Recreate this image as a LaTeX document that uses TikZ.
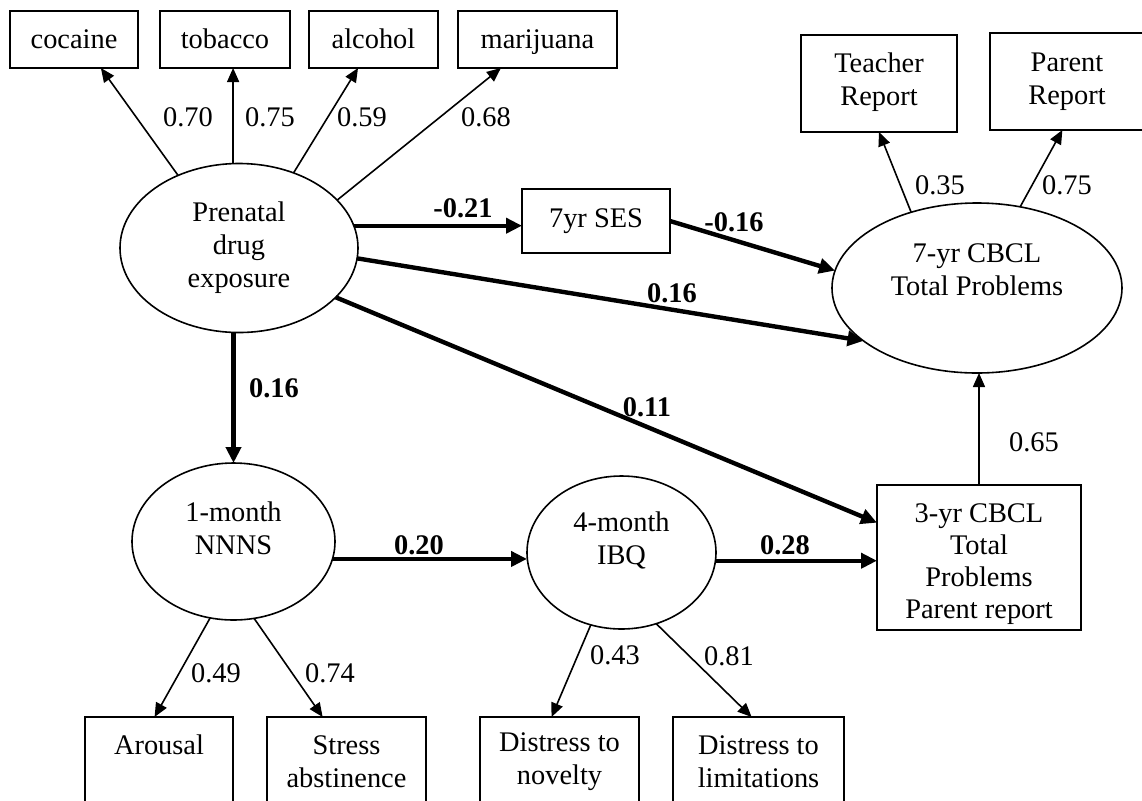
\documentclass[tikz,border=0pt]{standalone}
\usepackage{fontspec}
\setmainfont{Liberation Serif}
\usetikzlibrary{arrows.meta,shapes.geometric,calc}
\begin{document}
\begin{tikzpicture}[x=0.5pt,y=-0.5pt,
  every node/.style={font=\fontsize{14.2}{16.5}\selectfont, inner sep=0pt, outer sep=0pt},
  box/.style={draw, line width=0.8pt, rectangle, align=center},
  tbox/.style={box, minimum height=28.5pt, text height=11.5pt, text depth=3pt},
  lat/.style={draw, line width=0.8pt, ellipse},
  txt/.style={align=center},
  ld/.style={line width=0.8pt, -{Triangle[length=7pt,width=6pt]}},
  pth/.style={line width=2.2pt, -{Triangle[length=8pt,width=7.5pt]}},
  lbl/.style={},
  blbl/.style={font=\fontsize{14.2}{16.5}\selectfont\bfseries},
]
\useasboundingbox (0,0) rectangle (1142,800);
\clip (0,0) rectangle (1142,800);

% indicator boxes, top
\node[tbox, minimum width=64pt] (coc) at (74,39.5) {cocaine};
\node[tbox, minimum width=65pt] (tob) at (225,39.5) {tobacco};
\node[tbox, minimum width=64.5pt] (alc) at (373.5,39.5) {alcohol};
\node[tbox, minimum width=79.5pt] (mar) at (537.5,39.5) {marijuana};
\node[box, minimum width=78pt, minimum height=48.5pt] (tea) at (879,83.5) {};
\node[txt] (teat) at (879,82) {Teacher\\Report};
\node[box, minimum width=77pt, minimum height=48.5pt] (par) at (1067,81.5) {};
\node[txt] (part) at (1067,81.5) {Parent\\Report};

% latent variables
\node[lat, minimum width=119pt, minimum height=84.5pt, align=center] (pre) at (239,248) {Prenatal\\drug\\exposure};
\node[box, minimum width=74pt, minimum height=32pt] (ses) at (596,221) {7yr SES};
\node[lat, minimum width=145pt, minimum height=85pt] (cb7) at (977,288) {};
\node[txt] (cb7t) at (977,270) {7-yr CBCL\\Total Problems};
\node[lat, minimum width=101.5pt, minimum height=78.5pt] (nns) at (233.5,541.5) {};
\node[txt] (nnst) at (233.5,528) {1-month\\NNNS};
\node[lat, minimum width=94.5pt, minimum height=76.5pt] (ibq) at (621.5,552.5) {};
\node[txt] (ibqt) at (621.5,540) {4-month\\IBQ};
\node[box, minimum width=102pt, minimum height=72.5pt] (cb3) at (979,557.5) {};
\node[txt, font=\fontsize{14.2}{16}\selectfont] (cb3t) at (979,564) {3-yr CBCL\\Total\\Problems\\Parent report};

% indicator boxes, bottom
\node[box, minimum width=74pt, minimum height=44.5pt] (aro) at (159,761.5) {Arousal\\\mbox{}};
\node[box, minimum width=79.5pt, minimum height=44.5pt] (str) at (346.5,761.5) {Stress\\abstinence};
\node[box, minimum width=79.5pt, minimum height=44.5pt] (nov) at (559.5,761.5) {Distress to\\novelty};
\node[box, minimum width=85.5pt, minimum height=44.5pt] (lim) at (758.5,761.5) {Distress to\\limitations};

% measurement arrows
\draw[ld] (pre.130.3) -- ($(coc.south west)!0.71!(coc.south east)$);
\draw[ld] (pre.94) -- (pre.94 |- tob.south);
\draw[ld] (pre.54.5) -- ($(alc.south west)!0.38!(alc.south east)$);
\draw[ld] (pre.26.8) -- ($(mar.south west)!0.27!(mar.south east)$);
\draw[ld] (cb7.131.5) -- (tea.south);
\draw[ld] (cb7.62.4) -- ($(par.south west)!0.47!(par.south east)$);
\draw[ld] (nns.253.5) -- ($(aro.north west)!0.47!(aro.north east)$);
\draw[ld] (nns.285.8) -- ($(str.north west)!0.35!(str.north east)$);
\draw[ld] (ibq.247.7) -- ($(nov.north west)!0.45!(nov.north east)$);
\draw[ld] (ibq.296.7) -- ($(lim.north west)!0.46!(lim.north east)$);
\draw[ld] (cb3.north) -- (cb3.north |- cb7.south);

% structural paths
\draw[pth] (pre.11.6) -- (pre.11.6 -| ses.west);
\draw[pth] (ses.east) -- (cb7.173.4);
\draw[pth] (pre.-5.8) -- (cb7.205);
\draw[pth] (pre.-27.3) -- ($(cb3.north west)!0.26!(cb3.south west)$);
\draw[pth] (nns.north |- pre.south) -- (nns.north);
\draw[pth] (nns.-10.5) -- (nns.-10.5 -| ibq.west);
\draw[pth] (ibq.-5) -- (ibq.-5 -| cb3.west);

% labels
\node[lbl] (l1) at (188,117) {0.70};
\node[lbl] (l2) at (270,117) {0.75};
\node[lbl] (l3) at (362,117) {0.59};
\node[lbl] (l4) at (486,117) {0.68};
\node[lbl] (l5) at (940,185) {0.35};
\node[lbl] (l6) at (1067,185) {0.75};
\node[lbl] (l7) at (1034,442) {0.65};
\node[lbl] (l8) at (216,673) {0.49};
\node[lbl] (l9) at (330,673) {0.74};
\node[lbl] (l10) at (615,655) {0.43};
\node[lbl] (l11) at (729,656) {0.81};
\node[blbl] (b1) at (463,208) {-0.21};
\node[blbl] (b2) at (734,222) {-0.16};
\node[blbl] (b3) at (672,293) {0.16};
\node[blbl] (b4) at (647,407) {0.11};
\node[blbl] (b5) at (274,388) {0.16};
\node[blbl] (b6) at (419,545) {0.20};
\node[blbl] (b7) at (785,545) {0.28};
\end{tikzpicture}
\end{document}
